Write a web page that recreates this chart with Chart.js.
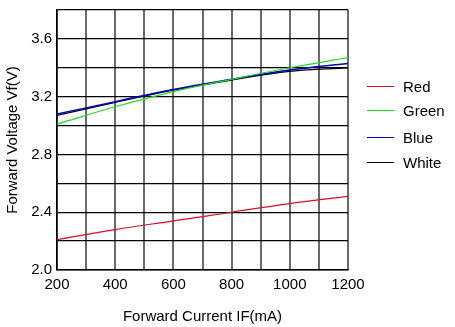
<!DOCTYPE html>
<html>
<head>
<meta charset="utf-8">
<script src="https://cdn.jsdelivr.net/npm/chart.js@4"></script>
<style>
  html,body{margin:0;padding:0;background:#fff;}
  #wrap{position:relative;width:455px;height:327px;}
  #legend{position:absolute;left:367px;top:0;font-family:'Liberation Sans',Arial,sans-serif;font-size:15px;color:#000;}
  .lg{position:absolute;left:0;white-space:nowrap;display:flex;align-items:center;}
  .lg i{display:inline-block;width:27px;height:0;border-top:1px solid;margin-right:9px;}
</style>
</head>
<body>
<div id="wrap">
  <canvas id="c" width="455" height="327"></canvas>
  <div id="legend"></div>
</div>
<script>
// forward current (mA)
const current=[200,400,600,800,1000,1200];
const red  =[2.21,2.28,2.34,2.40,2.46,2.51];
const green=[3.01,3.13,3.235,3.32,3.40,3.47];
const blue =[3.08,3.165,3.25,3.32,3.385,3.43];
const white=[3.07,3.16,3.245,3.315,3.375,3.40];
const seriesNames=['Red','Green','Blue','White'];
const seriesColors=['#d8102c','#22dd22','#0000c0','#000000'];
const legendY=[86,110,137,162];

const all=[red,green,blue,white];
const ds=all.map((arr,i)=>({
  label:seriesNames[i],
  data:arr.map((v,j)=>({x:current[j],y:v})),
  borderColor:seriesColors[i],borderWidth:i===2?1.5:1.2,pointRadius:0,tension:.4,fill:false
}));

document.getElementById('legend').innerHTML=seriesNames.map((n,i)=>
  `<div class="lg" style="top:${legendY[i]-10}px;height:20px"><i style="border-color:${seriesColors[i]}"></i>${n}</div>`).join('');

const font={family:"'Liberation Sans', Arial, sans-serif",size:15};
new Chart(document.getElementById('c'),{
  type:'line',
  data:{datasets:ds},
  options:{
    responsive:false,animation:false,
    layout:{padding:{top:10,right:107,left:0,bottom:0}},
    plugins:{legend:{display:false},tooltip:{enabled:false}},
    scales:{
      x:{type:'linear',min:200,max:1200,
        ticks:{stepSize:100,color:'#000',font,padding:6,maxRotation:0,minRotation:0,autoSkip:false,callback:v=>v%200===0?v:''},
        grid:{color:'#6a6a6a',lineWidth:2,drawTicks:false},
        border:{color:'#000',width:1.5},
        title:{display:true,text:'Forward Current IF(mA)',color:'#000',font,padding:{top:8,bottom:1}},
        afterFit:s=>{s.height=57;s.paddingLeft=0;s.paddingRight=0;}
      },
      y:{min:2.0,max:3.8,
        ticks:{stepSize:0.2,color:'#000',font,padding:5,callback:v=>{const r=Math.round(v*10);return r%4===0?(r/10).toFixed(1):'';}},
        grid:{color:'#000',lineWidth:1.3,drawTicks:false},
        border:{color:'#000',width:1.5},
        title:{display:true,text:'Forward Voltage Vf(V)',color:'#000',font,padding:{top:4,bottom:0}},
        afterFit:s=>{s.width=57;s.paddingTop=0;s.paddingBottom=0;}
      }
    }
  }
});
</script>
</body>
</html>
